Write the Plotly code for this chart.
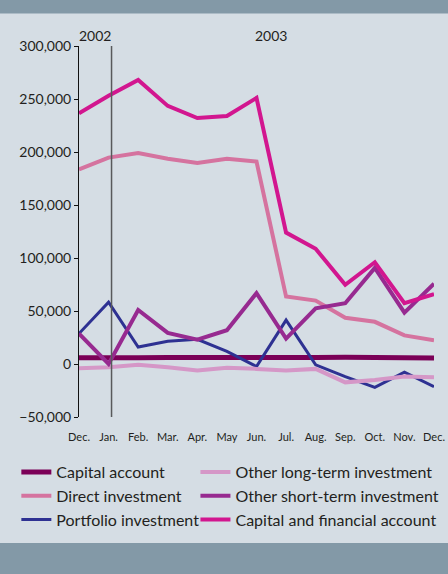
import plotly.graph_objects as go

# --- Datos (US$ millones) ---
meses = ["Dec.", "Jan.", "Feb.", "Mar.", "Apr.", "May", "Jun.",
         "Jul.", "Aug.", "Sep.", "Oct.", "Nov.", "Dec."]
anios = ["2002", "2003"]

capital_account = [6000, 5500, 6000, 6200, 6000, 5800, 5500,
                   5600, 6200, 6300, 6100, 5800, 5600]
direct_investment = [183600, 194700, 199000, 193700, 189600, 193700, 191000,
                     63600, 59800, 43600, 39800, 27000, 22400]
portfolio_investment = [28700, 58300, 16000, 21400, 23300, 11900, -2400,
                        41400, -800, -11900, -22000, -7800, -21400]
other_long_term = [-4000, -3000, -800, -3000, -6200, -3600, -4600,
                   -6200, -4600, -17300, -15000, -11900, -12500]
other_short_term = [28700, 0, 51000, 29300, 23000, 31900, 66800,
                    24000, 52500, 57300, 90600, 48400, 75700]
capital_financial = [236600, 253000, 268000, 243500, 232000, 234000, 251000,
                     124000, 108700, 74700, 96000, 57300, 66000]

# nombre, valores, color, grosor, leyenda (columna)
series = [
    ("Capital account", capital_account, "#7b0057", 5, "legend"),
    ("Direct investment", direct_investment, "#d5739f", 4, "legend"),
    ("Portfolio investment", portfolio_investment, "#2e3192", 3, "legend"),
    ("Other long-term investment", other_long_term, "#d597c7", 4, "legend2"),
    ("Other short-term investment", other_short_term, "#972a90", 4, "legend2"),
    ("Capital and financial account", capital_financial, "#d2168f", 4, "legend2"),
]

FONDO = "#d5dde4"
BANDA = "#8399a7"
TEXTO = "#231f20"

x = list(range(len(meses)))

fig = go.Figure()
for nombre, valores, color, ancho, leyenda in series:
    fig.add_trace(go.Scatter(
        x=x, y=valores, name=nombre, mode="lines",
        line=dict(color=color, width=ancho),
        legend=leyenda,
    ))

# --- Bandas superior e inferior ---
fig.add_shape(type="rect", xref="paper", yref="paper", x0=-0.3, x1=1.1,
              y0=1.0876, y1=1.2, fillcolor=BANDA, line_width=0, layer="below")
fig.add_shape(type="rect", xref="paper", yref="paper", x0=-0.3, x1=1.1,
              y0=-0.5, y1=-0.3396, fillcolor=BANDA, line_width=0, layer="below")

# --- Separador de años ---
fig.add_shape(type="line", xref="x", yref="paper", x0=1.1, x1=1.1, y0=0, y1=1,
              line=dict(color="#58595b", width=1.5))
for anio, pos in zip(anios, [0.54, 6.5]):
    fig.add_annotation(x=pos, xref="x", y=1, yref="paper", yanchor="bottom",
                       text=anio, showarrow=False,
                       font=dict(size=14, color=TEXTO))

leyenda_base = dict(
    orientation="v", xref="paper", yref="paper",
    y=-0.1024, xanchor="left", yanchor="top",
    font=dict(size=16, color=TEXTO), bgcolor="rgba(0,0,0,0)",
    tracegroupgap=0,
)

fig.update_layout(
    width=448, height=574,
    paper_bgcolor=FONDO, plot_bgcolor=FONDO,
    margin=dict(l=79, r=14, t=46, b=157, autoexpand=False),
    font=dict(family="Lato, sans-serif", color=TEXTO),
    showlegend=True,
    legend=dict(leyenda_base, x=-0.1765),
    legend2=dict(leyenda_base, x=0.328),
    xaxis=dict(
        range=[0, 12], tickvals=x, ticktext=meses,
        showgrid=False, zeroline=False, showline=False, ticks="",
        tickfont=dict(size=11, color=TEXTO), ticklabelstandoff=12,
    ),
    xaxis2=dict(
        overlaying="x", anchor="free", position=1 / 7,
        range=[0, 12], tickvals=x, showticklabels=False,
        showgrid=False, zeroline=False, showline=True,
        linecolor="#333333", linewidth=1, ticks="outside", ticklen=4,
        tickcolor="#333333",
    ),
    yaxis=dict(
        range=[-50000, 300000], tickvals=list(range(-50000, 300001, 50000)),
        tickformat=",", showgrid=False, zeroline=False,
        showline=True, linecolor="#111111", linewidth=1,
        ticks="outside", ticklen=4, tickcolor="#111111",
        tickfont=dict(size=14, color=TEXTO),
    ),
)

fig.write_html("out.html", config={"displayModeBar": False},
               post_script="document.body.style.margin='0';")
